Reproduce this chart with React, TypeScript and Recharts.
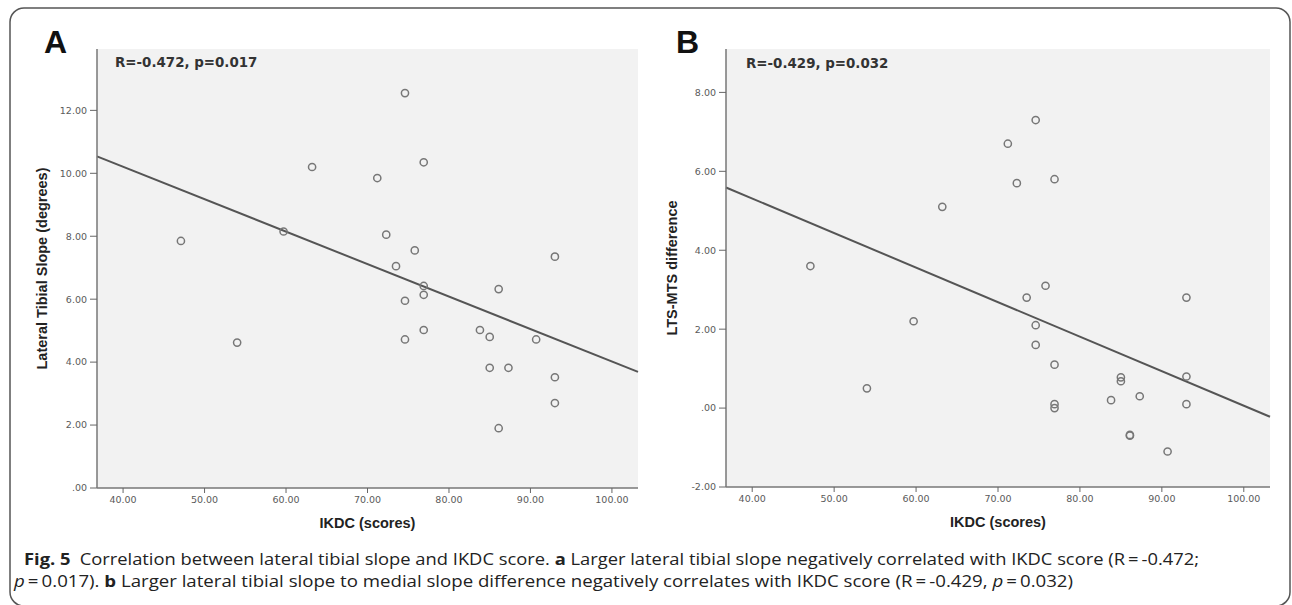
import React from 'react';
import { CartesianGrid, ReferenceLine, Scatter, ScatterChart, XAxis, YAxis } from 'recharts';

// IKDC score of each patient (shared x values of both panels)
const IKDC = [47.1, 54.0, 59.7, 63.2, 71.2, 72.3, 73.5, 74.6, 74.6, 74.6, 75.8, 76.9, 76.9, 76.9, 76.9, 83.8, 85.0, 85.0, 86.1, 86.1, 87.3, 90.7, 93.0, 93.0, 93.0];
// panel A: lateral tibial slope (degrees)
const LTS = [7.85, 4.62, 8.15, 10.2, 9.85, 8.05, 7.05, 12.55, 5.95, 4.72, 7.55, 10.35, 6.42, 6.14, 5.02, 5.02, 4.8, 3.82, 6.32, 1.9, 3.82, 4.72, 7.35, 3.52, 2.7];
// panel B: LTS-MTS difference
const LTS_MTS_DIFF = [3.6, 0.5, 2.2, 5.1, 6.7, 5.7, 2.8, 7.3, 2.1, 1.6, 3.1, 5.8, 1.1, 0.1, 0.0, 0.2, 0.78, 0.68, -0.68, -0.7, 0.3, -1.1, 2.8, 0.8, 0.1];

const X_DOMAIN = [36.8, 103.2];
const X_TICKS = [40, 50, 60, 70, 80, 90, 100];
const A_Y_DOMAIN = [0, 13.95];
const A_Y_TICKS = [0, 2, 4, 6, 8, 10, 12];
const B_Y_DOMAIN = [-2, 9.1];
const B_Y_TICKS = [-2, 0, 2, 4, 6, 8];

// fit lines, read at the left and right edge of the plot
const FIT_A_Y = [10.54, 3.69];
const FIT_B_Y = [5.59, -0.22];

const fmt = (v: number) => (v === 0 ? '.00' : v.toFixed(2));

const TICK = { fontSize: 9.5, fill: '#5a5a5a', fontFamily: 'DejaVu Sans' };
const AXIS_LABEL = { fontSize: 14.5, fill: '#222', fontFamily: 'Liberation Sans', fontWeight: 'bold' as const, textAnchor: 'middle' as const };

const Ring = (p: any) => (
  <circle cx={p.cx} cy={p.cy} r={3.6} fill="none" stroke="#777" strokeWidth={1.5} />
);

type PanelProps = {
  ys: number[];
  yDomain: number[];
  yTicks: number[];
  fitY: number[];
  yLabel: string;
  left: number;
  width: number;
  marginLeft: number;
  marginBottom: number;
  labelOffset: number;
};

const Panel = ({ ys, yDomain, yTicks, fitY, yLabel, left, width, marginLeft, marginBottom, labelOffset }: PanelProps) => {
  const data = IKDC.map((x, i) => ({ x, y: ys[i] }));
  return (
    <div style={{ position: 'absolute', left, top: 0 }}>
      <ScatterChart width={width} height={540} margin={{ top: 49, right: 22, bottom: marginBottom, left: marginLeft }}>
        <CartesianGrid fill="#f2f2f2" horizontal={false} vertical={false} />
        <XAxis xAxisId="top" orientation="top" type="number" domain={X_DOMAIN} height={0} tick={false} tickLine={false} axisLine={{ stroke: '#b0b0b0', strokeWidth: 1.5 }} />
        <YAxis yAxisId="right" orientation="right" type="number" domain={yDomain} width={0} tick={false} tickLine={false} axisLine={{ stroke: '#b0b0b0', strokeWidth: 1.5 }} />
        <XAxis
          type="number"
          dataKey="x"
          domain={X_DOMAIN}
          ticks={X_TICKS}
          tickFormatter={fmt}
          allowDataOverflow
          height={30}
          tick={TICK}
          tickSize={5}
          tickMargin={3}
          tickLine={{ stroke: '#666' }}
          axisLine={{ stroke: '#777', strokeWidth: 1.5 }}
          label={{ value: 'IKDC (scores)', position: 'bottom', offset: 0, style: AXIS_LABEL }}
        />
        <YAxis
          type="number"
          dataKey="y"
          domain={yDomain}
          ticks={yTicks}
          tickFormatter={fmt}
          allowDataOverflow
          width={60}
          tick={TICK}
          tickSize={7}
          tickMargin={3}
          tickLine={{ stroke: '#666' }}
          axisLine={{ stroke: '#777', strokeWidth: 1.5 }}
          label={{ value: yLabel, angle: -90, position: 'insideLeft', offset: labelOffset, style: AXIS_LABEL }}
        />
        <ReferenceLine
          segment={[{ x: X_DOMAIN[0], y: fitY[0] }, { x: X_DOMAIN[1], y: fitY[1] }]}
          stroke="#555"
          strokeWidth={2}
        />
        <Scatter data={data} shape={Ring} isAnimationActive={false} />
      </ScatterChart>
    </div>
  );
};

export default function App() {
  return (
    <div style={{ position: 'absolute', left: 0, top: 0, width: 1292, height: 605, overflow: 'hidden', background: '#fff' }}>
      <Panel ys={LTS} yDomain={A_Y_DOMAIN} yTicks={A_Y_TICKS} fitY={FIT_A_Y} yLabel="Lateral Tibial Slope (degrees)"
        left={0} width={660} marginLeft={37} marginBottom={22} labelOffset={5} />
      <Panel ys={LTS_MTS_DIFF} yDomain={B_Y_DOMAIN} yTicks={B_Y_TICKS} fitY={FIT_B_Y} yLabel="LTS-MTS difference"
        left={640} width={652} marginLeft={26} marginBottom={23} labelOffset={6} />
      <svg width={1292} height={605} style={{ position: 'absolute', left: 0, top: 0, pointerEvents: 'none' }}>
        <rect x={10} y={8} width={1280} height={598} rx={14} fill="none" stroke="#555" strokeWidth={1.5} />
        <text x={44} y={53} fontFamily="Liberation Sans" fontWeight="bold" fontSize={32} fill="#111">A</text>
        <text x={676} y={53} fontFamily="Liberation Sans" fontWeight="bold" fontSize={32} fill="#111">B</text>
        <text x={115} y={67} fontFamily="DejaVu Sans" fontWeight="bold" fontSize={13.4} fill="#333">R=-0.472, p=0.017</text>
        <text x={746} y={68} fontFamily="DejaVu Sans" fontWeight="bold" fontSize={13.4} fill="#333">R=-0.429, p=0.032</text>
        <text x={24} y={565} fontFamily="Open Sans" fontSize={16} fill="#222" textLength={1175} lengthAdjust="spacingAndGlyphs">
          <tspan fontWeight="bold">Fig. 5</tspan>
          <tspan>{'\u2002Correlation between lateral tibial slope and IKDC score. '}</tspan>
          <tspan fontWeight="bold">a</tspan>
          <tspan>{' Larger lateral tibial slope negatively correlated with IKDC score (R\u2009=\u2009-0.472;'}</tspan>
        </text>
        <text x={14} y={587} fontFamily="Open Sans" fontSize={16} fill="#222" textLength={1059} lengthAdjust="spacingAndGlyphs">
          <tspan fontStyle="italic">p</tspan>
          <tspan>{'\u2009=\u20090.017). '}</tspan>
          <tspan fontWeight="bold">b</tspan>
          <tspan>{' Larger lateral tibial slope to medial slope difference negatively correlates with IKDC score (R\u2009=\u2009-0.429, '}</tspan>
          <tspan fontStyle="italic">p</tspan>
          <tspan>{'\u2009=\u20090.032)'}</tspan>
        </text>
      </svg>
    </div>
  );
}
